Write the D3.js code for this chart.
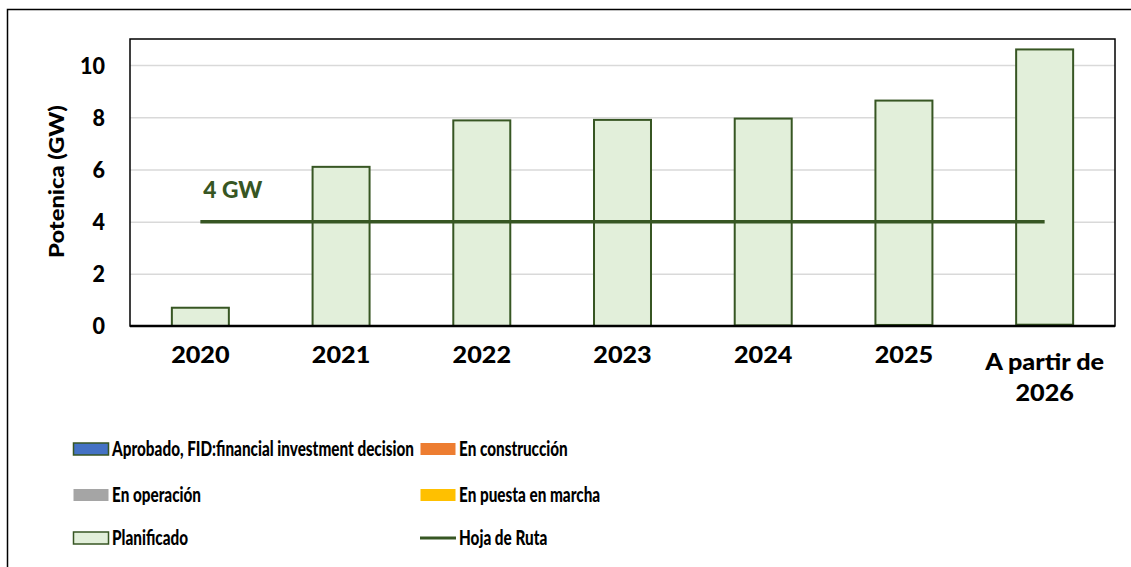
<!DOCTYPE html>
<html>
<head>
<meta charset="utf-8">
<script src="https://cdn.jsdelivr.net/npm/d3@7"></script>
<style>
  html, body { margin: 0; padding: 0; background: #fff; }
  svg text { font-family: Lato, "Open Sans", sans-serif; font-weight: 900; fill: #000; }
</style>
</head>
<body>
<svg id="chart" width="1131" height="567"></svg>
<script>
const categories = ["2020", "2021", "2022", "2023", "2024", "2025", "A partir de 2026"];
const aprobado    = [0, 0, 0, 0, 0, 0, 0];
const construccion = [0, 0, 0, 0, 0, 0, 0];
const operacion   = [0, 0, 0, 0, 0.02, 0.04, 0.05];
const puesta      = [0, 0, 0, 0, 0, 0, 0];
const planificado = [0.7, 6.1, 7.88, 7.9, 7.93, 8.6, 10.55];
const hojaDeRuta  = [4, 4, 4, 4, 4, 4, 4];
const yTicks = [0, 2, 4, 6, 8, 10];
const seriesNames = ["Aprobado, FID:financial investment decision", "En construcción", "En operación", "En puesta en marcha", "Planificado", "Hoja de Ruta"];

const colors = {
  aprobado: "#4472C4", construccion: "#ED7D31", operacion: "#A5A5A5",
  puesta: "#FFC000", planificado: "#E2EFDA", dark: "#375623"
};

const svg = d3.select("#chart");

// place a text at (tx,ty) and squeeze it horizontally by factor k (Calibri-like narrow face)
function placeText(parent, str, tx, ty, size, anchor, k, rot) {
  const t = parent.append("text").attr("font-size", size).attr("text-anchor", anchor || "start").text(str);
  t.attr("transform", `translate(${tx},${ty})${rot ? " rotate(" + rot + ")" : ""} scale(${k},1)`);
  return t;
}
// width factor: target width / natural width of a sample string at a given size
function factorFor(str, size, target) {
  const t = svg.append("text").attr("font-size", size).text(str);
  const w = t.node().getComputedTextLength();
  t.remove();
  return target / w;
}

// outer frame
svg.append("path").attr("d", "M7.5,567 L7.5,9.5 L1131,9.5")
  .attr("fill", "none").attr("stroke", "#000").attr("stroke-width", 1.5);

const pLeft = 130, pRight = 1115, pTop = 39, pBottom = 326;
const x = d3.scaleBand().domain(categories).range([pLeft, pRight])
  .paddingInner(0.595).paddingOuter(0.2975);
const y = d3.scaleLinear().domain([0, 11]).range([pBottom, pTop]);

// gridlines
const grid = svg.append("g")
  .attr("transform", `translate(${pLeft},0)`)
  .call(d3.axisLeft(y).tickValues(yTicks.filter(t => t > 0)).tickSize(-(pRight - pLeft)).tickFormat(""));
grid.select(".domain").remove();
grid.selectAll("line").attr("stroke", "#D9D9D9").attr("stroke-width", 1.5);

// stacked bars
const rows = categories.map((c, i) => ({
  cat: c, operacion: operacion[i], aprobado: aprobado[i], construccion: construccion[i],
  puesta: puesta[i], planificado: planificado[i]
}));
const keys = ["operacion", "aprobado", "construccion", "puesta", "planificado"];
const stack = d3.stack().keys(keys)(rows);
stack.forEach(s => {
  svg.append("g").selectAll("rect").data(s.filter(d => d[1] - d[0] > 0)).join("rect")
    .attr("x", d => x(d.data.cat))
    .attr("width", x.bandwidth())
    .attr("y", d => y(d[1]))
    .attr("height", d => y(d[0]) - y(d[1]))
    .attr("fill", colors[s.key])
    .attr("stroke", s.key === "planificado" ? colors.dark : "none")
    .attr("stroke-width", 2);
});

// plot border
svg.append("rect").attr("x", pLeft).attr("y", pTop).attr("width", pRight - pLeft).attr("height", pBottom - pTop)
  .attr("fill", "none").attr("stroke", "#000").attr("stroke-width", 1.5);

// x axis line
svg.append("line").attr("x1", pLeft).attr("x2", pRight).attr("y1", pBottom).attr("y2", pBottom)
  .attr("stroke", "#000").attr("stroke-width", 2.5);

// Hoja de Ruta line
const line = d3.line().x((d, i) => x(categories[i]) + x.bandwidth() / 2).y(d => y(d));
svg.append("path").datum(hojaDeRuta).attr("d", line)
  .attr("fill", "none").attr("stroke", colors.dark).attr("stroke-width", 3.5);
const gwLabel = hojaDeRuta[0] + " GW";
placeText(svg, gwLabel, x(categories[0]) + x.bandwidth() / 2 + 3, y(hojaDeRuta[0]) - 24, 22, "start",
  factorFor(gwLabel, 22, 59)).style("fill", colors.dark);

// y axis tick labels (drawn by the axis, then squeezed)
const yAx = svg.append("g").attr("transform", `translate(${pLeft},0)`)
  .call(d3.axisLeft(y).tickValues(yTicks).tickSize(0).tickPadding(25));
yAx.select(".domain").remove();
const kTick = factorFor("10", 22, 25);
yAx.selectAll("text").attr("font-size", 22).attr("dy", "0.36em")
  .style("font-family", "Lato, sans-serif").style("font-weight", 900)
  .attr("x", null)
  .attr("transform", `translate(-25,0) scale(${kTick},1)`);

// y axis title
placeText(svg, "Potenica (GW)", 64, (pTop + pBottom) / 2 - 1, 21, "middle",
  factorFor("Potenica (GW)", 21, 153), -90);

// x axis labels
const kX = factorFor("A partir de", 23, 119);
categories.forEach(c => {
  const words = c === "A partir de 2026" ? ["A partir de", "2026"] : [c];
  const cx = x(c) + x.bandwidth() / 2;
  words.forEach((w, j) => {
    placeText(svg, w, cx, words.length > 1 ? 370 + j * 31 : 363, 23, "middle", kX);
  });
});

// legend
const legendItems = [
  { name: seriesNames[0], fill: colors.aprobado, stroke: colors.dark, col: 0, row: 0 },
  { name: seriesNames[1], fill: colors.construccion, stroke: "none", col: 1, row: 0 },
  { name: seriesNames[2], fill: colors.operacion, stroke: "none", col: 0, row: 1 },
  { name: seriesNames[3], fill: colors.puesta, stroke: "none", col: 1, row: 1 },
  { name: seriesNames[4], fill: colors.planificado, stroke: colors.dark, col: 0, row: 2 },
  { name: seriesNames[5], line: true, col: 1, row: 2 }
];
const kLeg = factorFor(seriesNames[0], 20.5, 302);
const colX = [73, 420], rowY = [449, 495, 538];
legendItems.forEach(it => {
  const gx = colX[it.col], gy = rowY[it.row];
  if (it.line) {
    svg.append("line").attr("x1", gx).attr("x2", gx + 36).attr("y1", gy).attr("y2", gy)
      .attr("stroke", colors.dark).attr("stroke-width", 3);
  } else {
    svg.append("rect").attr("x", gx + 0.5).attr("y", gy - 6).attr("width", 35).attr("height", 12)
      .attr("fill", it.fill).attr("stroke", it.stroke).attr("stroke-width", 1.5);
  }
  placeText(svg, it.name, gx + 39, gy + 7, 20.5, "start", kLeg);
});
</script>
</body>
</html>
